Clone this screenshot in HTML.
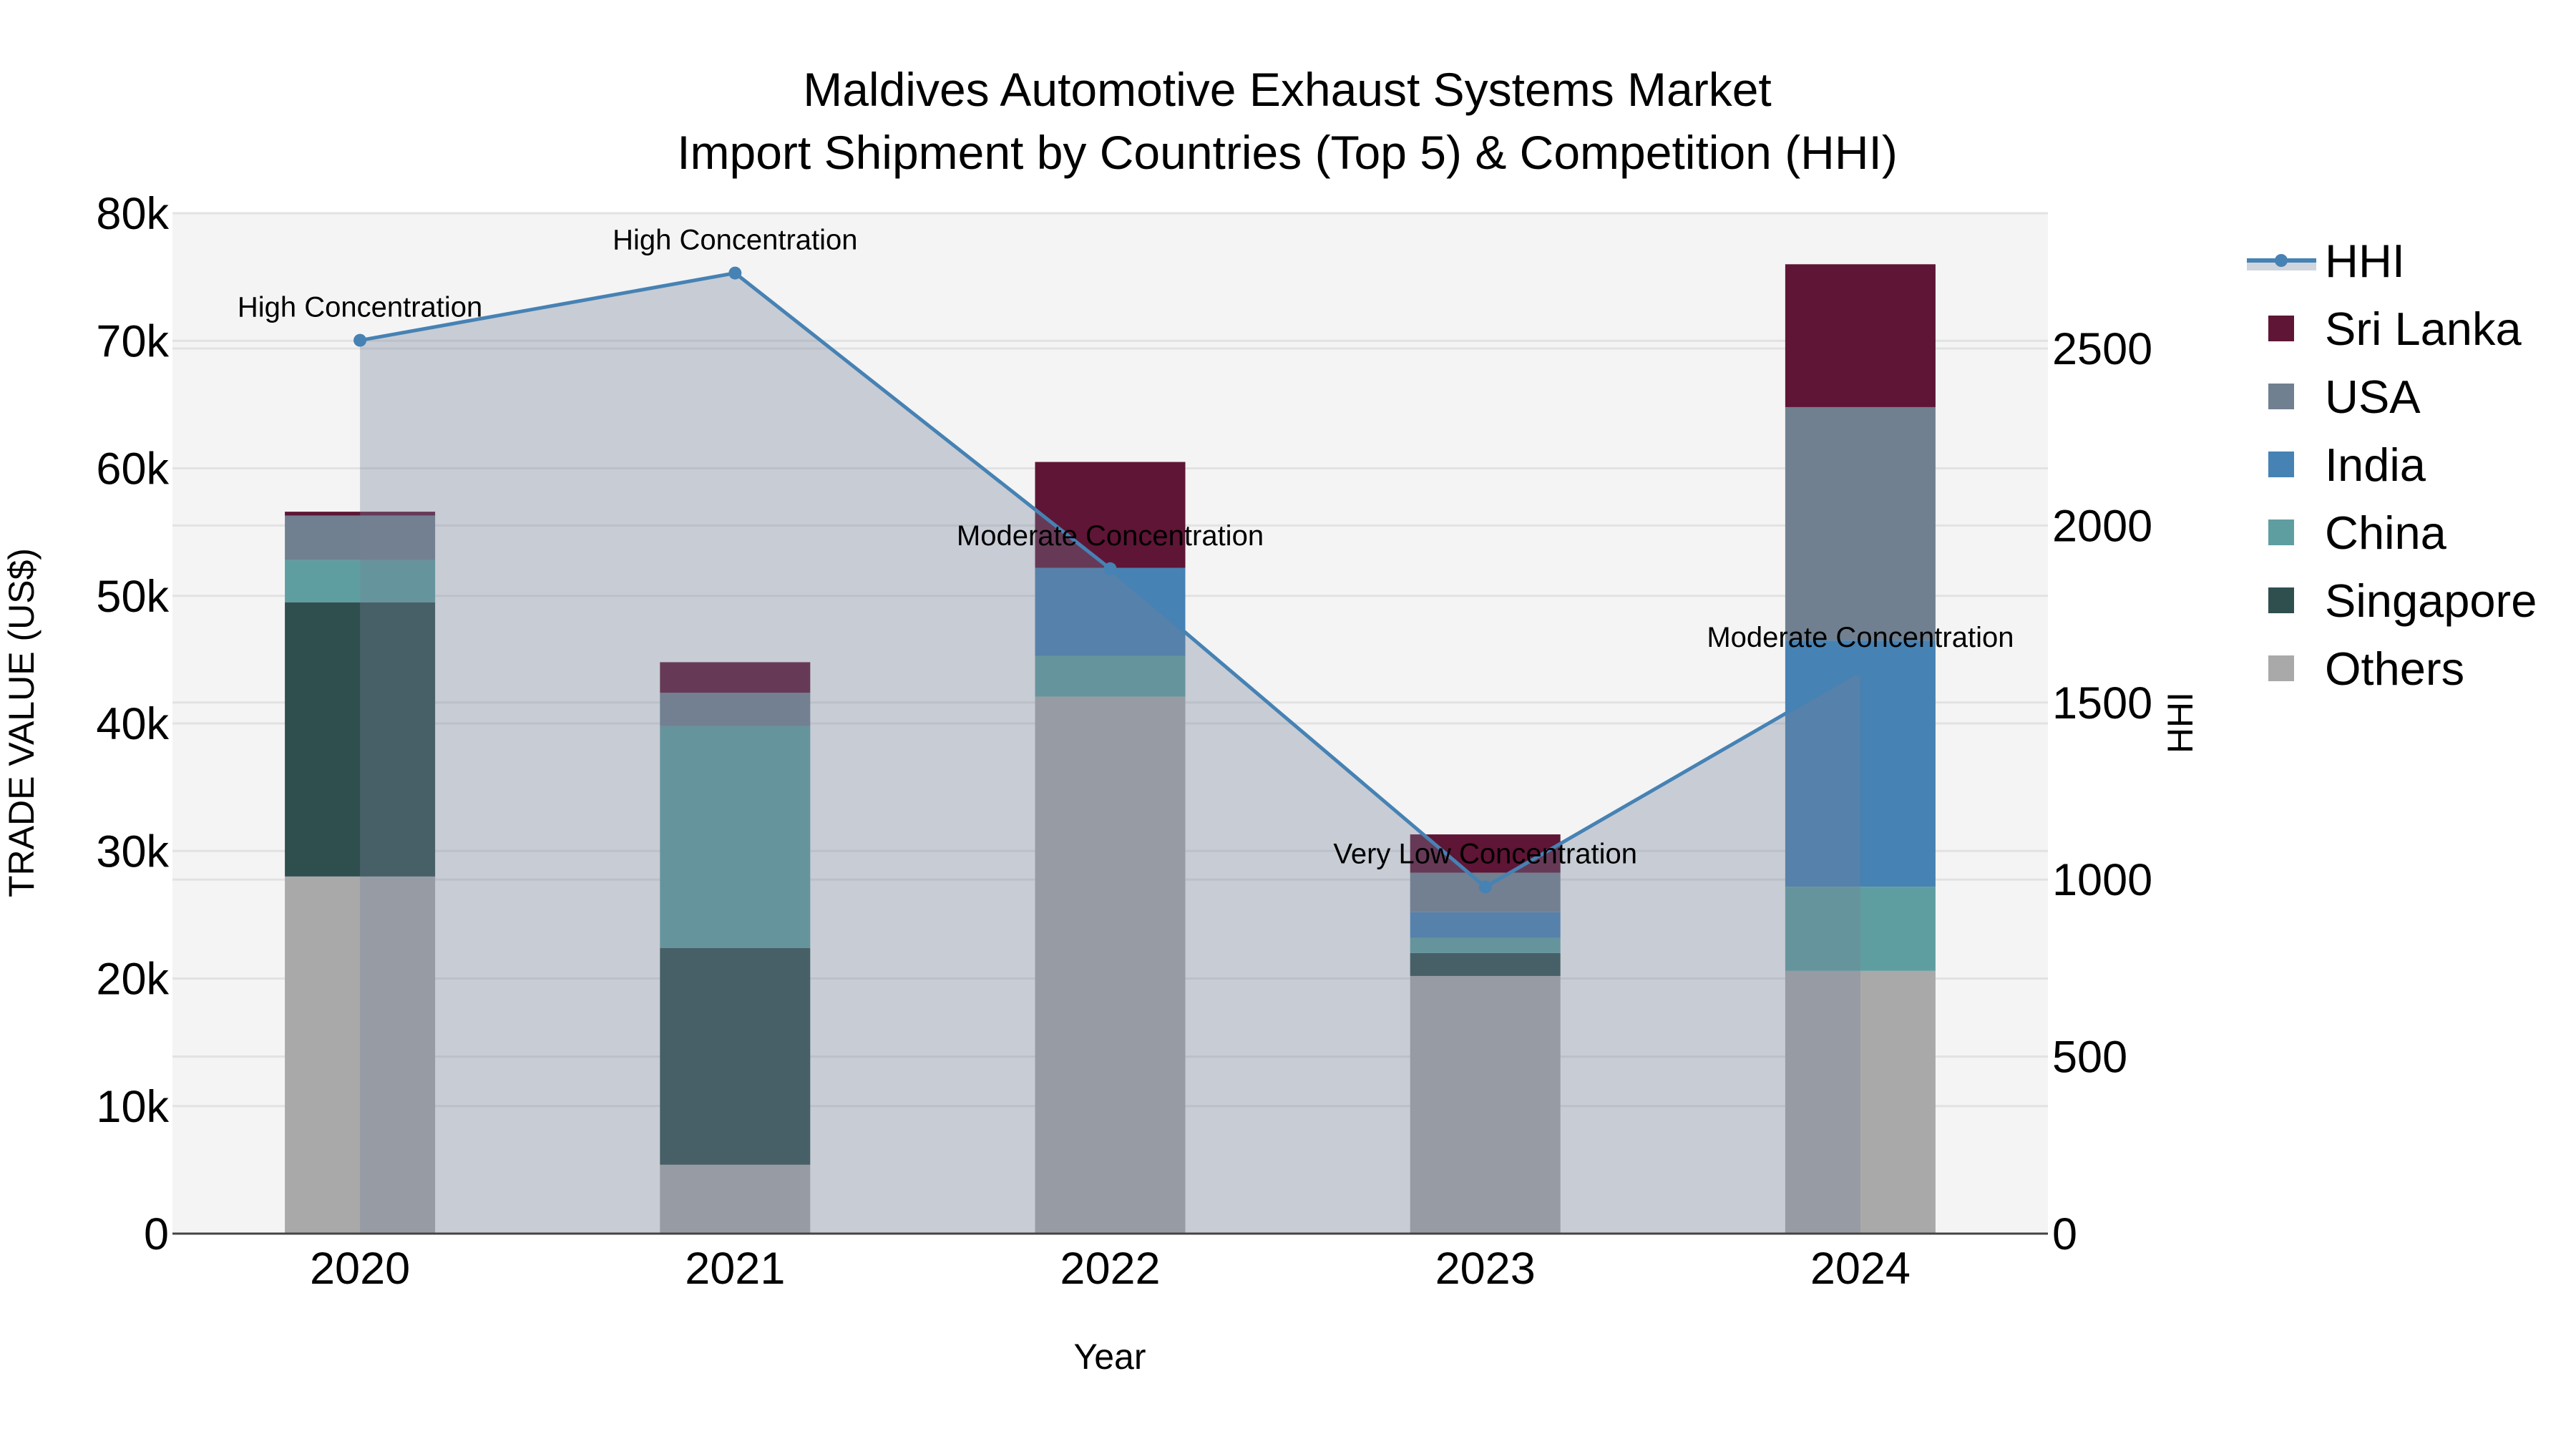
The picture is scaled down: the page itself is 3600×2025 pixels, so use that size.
<!DOCTYPE html>
<html><head><meta charset="utf-8"><style>
html,body{margin:0;padding:0;background:#fff;}
svg{display:block;font-family:"Liberation Sans",Arial,sans-serif;}
</style></head><body>
<svg id="chart" width="3600" height="2025" viewBox="0 0 3600 2025" xmlns="http://www.w3.org/2000/svg">
<rect x="0" y="0" width="3600" height="2025" fill="#fff"/>
<rect x="241" y="298" width="2621" height="1426" fill="#f4f4f4"/>
<g id="grid"></g>
<g id="bars"></g>
<g id="hhi"></g>
<g id="axes"></g>
<text x="1799" y="148" font-size="66" text-anchor="middle">Maldives Automotive Exhaust Systems Market</text>
<text x="1799" y="236" font-size="66" text-anchor="middle">Import Shipment by Countries (Top 5) &amp; Competition (HHI)</text>
<text x="1551" y="1913" font-size="50" text-anchor="middle">Year</text>
<text transform="translate(47,1010) rotate(-90)" font-size="50" text-anchor="middle">TRADE VALUE (US$)</text>
<text transform="translate(3064,1010) rotate(-90)" font-size="50" text-anchor="middle">HHI</text>
<g id="legend"></g>
</svg>
<script>
const years = ["2020","2021","2022","2023","2024"];
const seriesNames = ["Others","Singapore","China","India","USA","Sri Lanka"];
const others    = [28000, 5400, 42100, 20200, 20600];
const singapore = [21500, 17000, 0, 1800, 0];
const china     = [3300, 17400, 3200, 1200, 6600];
const india     = [0, 0, 6900, 2000, 19300];
const usa       = [3500, 2600, 0, 3100, 18300];
const sriLanka  = [300, 2400, 8300, 3000, 11200];
const hhi = [2523, 2713, 1878, 979, 1591];
const hhiLabels = ["High Concentration","High Concentration","Moderate Concentration","Very Low Concentration","Moderate Concentration"];
const yTicks = [0,10000,20000,30000,40000,50000,60000,70000,80000];
const yTickLabels = ["0","10k","20k","30k","40k","50k","60k","70k","80k"];
const y2Ticks = [0,500,1000,1500,2000,2500];

const colors = {"Others":"#a9a9a9","Singapore":"#2f4f4f","China":"#5f9ea0","India":"#4682b4","USA":"#708090","Sri Lanka":"#5f1535"};
const NS="http://www.w3.org/2000/svg";
const L=241,R=2862,T=298,B=1724;
const step=(R-L)/years.length;
const xc=i=>L+step*(i+0.5);
const y=v=>B-(v/80000)*(B-T);
const y2=v=>B-v*((B-487)/2500);
function mk(tag,attrs,parent){const e=document.createElementNS(NS,tag);for(const k in attrs)e.setAttribute(k,attrs[k]);parent.appendChild(e);return e;}
const grid=document.getElementById('grid'),bars=document.getElementById('bars'),hg=document.getElementById('hhi'),axes=document.getElementById('axes'),leg=document.getElementById('legend');

yTicks.forEach((t,i)=>{
  if(t>0){const g=mk('line',{x1:L,x2:R,y1:y(t),y2:y(t),stroke:'#e2e2e2','stroke-width':3},grid);
  
  }
  const tx=mk('text',{x:236,y:y(t)+22,'font-size':63,'text-anchor':'end'},axes);tx.textContent=yTickLabels[i];
  
  
});
y2Ticks.forEach(t=>{
  if(t>0){const g=mk('line',{x1:L,x2:R,y1:y2(t),y2:y2(t),stroke:'#e2e2e2','stroke-width':3},grid);
  
  }
  const tx=mk('text',{x:2868,y:y2(t)+22,'font-size':63},axes);tx.textContent=String(t);
  
  
});
years.forEach((yr,i)=>{
  const tx=mk('text',{x:xc(i),y:1794,'font-size':63,'text-anchor':'middle'},axes);tx.textContent=yr;
  
  
});
const zl=mk('line',{x1:L,x2:R,y1:B,y2:B,stroke:'#444','stroke-width':3},axes);



const data={"Others":others,"Singapore":singapore,"China":china,"India":india,"USA":usa,"Sri Lanka":sriLanka};
const bw=210;
years.forEach((yr,i)=>{
  let acc=0;
  seriesNames.forEach(s=>{
    const v=data[s][i]; if(v<=0) return;
    const r=mk('rect',{x:xc(i)-bw/2,y:y(acc+v),width:bw,height:y(acc)-y(acc+v),fill:colors[s]},bars);
    
    
    acc+=v;
  });
});

let pts=hhi.map((v,i)=>xc(i)+','+y2(v)).join(' ');
const area=mk('polygon',{points:xc(0)+','+B+' '+pts+' '+xc(hhi.length-1)+','+B,fill:'rgba(118,130,152,0.35)'},hg);


const line=mk('polyline',{points:pts,fill:'none',stroke:'#4682b4','stroke-width':5},hg);


hhi.forEach((v,i)=>{
  const c=mk('circle',{cx:xc(i),cy:y2(v),r:9,fill:'#4682b4'},hg);
  
  
  const t=mk('text',{x:xc(i),y:y2(v)-33,'font-size':40,'text-anchor':'middle'},hg);t.textContent=hhiLabels[i];
  
  
});

// legend
const lyStart=364, ldy=95;
const lr=mk('rect',{x:3140,y:lyStart,width:97,height:14,fill:'#d0d5dd'},leg);


const ll=mk('line',{x1:3140,x2:3237,y1:lyStart,y2:lyStart,stroke:'#4682b4','stroke-width':6},leg);


const lc=mk('circle',{cx:3188,cy:lyStart,r:9,fill:'#4682b4'},leg);


const lt=mk('text',{x:3249,y:lyStart+23,'font-size':65},leg);lt.textContent='HHI';


const legOrder=["Sri Lanka","USA","India","China","Singapore","Others"];
legOrder.forEach((s,k)=>{
  const cy=lyStart+ldy*(k+1);
  const r=mk('rect',{x:3170,y:cy-18,width:36,height:36,fill:colors[s]},leg);
  
  
  const t=mk('text',{x:3249,y:cy+23,'font-size':65},leg);t.textContent=s;
  
  
});
</script>
</body></html>
